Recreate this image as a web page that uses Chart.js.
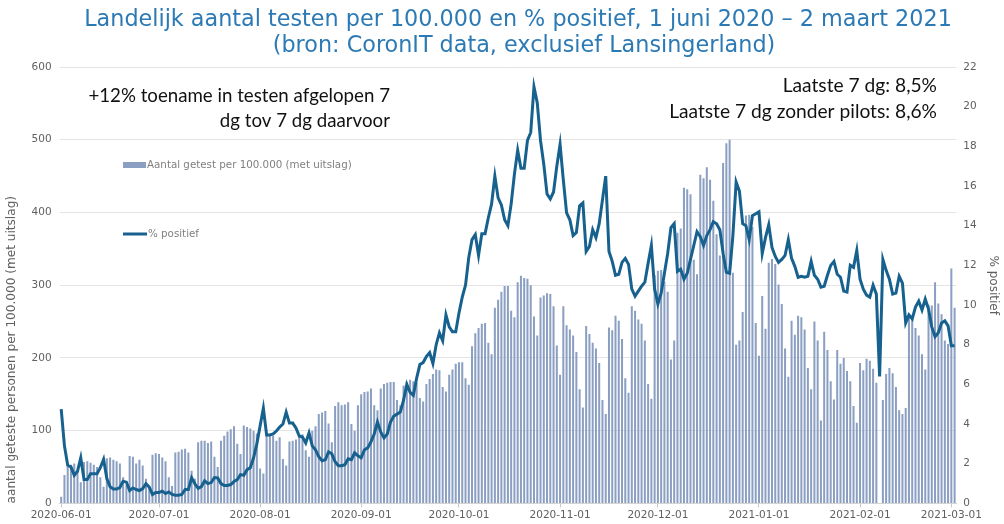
<!DOCTYPE html>
<html>
<head>
<meta charset="utf-8">
<script src="https://cdn.jsdelivr.net/npm/chart.js@4.4.0/dist/chart.umd.min.js"></script>
<style>
  html, body { margin: 0; padding: 0; background: #fff; }
  #wrap { width: 1004px; height: 524px; }
</style>
</head>
<body>
<div id="wrap"><canvas id="myChart" width="1004" height="524"></canvas></div>
<script>
// dagen van 2020-06-01 t/m 2021-03-02
const startDatum = '2020-06-01';
const aantalDagen = 275;

// aantal getest per 100.000 (met uitslag), per dag, week begint op maandag
const getest = [
    9, 39, 50, 53, 55, 45, 29,
    57, 58, 56, 53, 50, 36, 23,
    62, 63, 60, 58, 55, 36, 25,
    65, 64, 55, 60, 52, 34, 21,
    67, 69, 68, 63, 58, 36, 24,
    70, 71, 74, 75, 70, 45, 34,
    84, 86, 86, 83, 85, 64, 50,
    86, 93, 99, 102, 106, 82, 68,
    107, 105, 103, 100, 96, 48, 41,
    93, 95, 93, 86, 91, 61, 52,
    85, 86, 88, 92, 95, 73, 64,
    100, 106, 123, 125, 127, 110, 84,
    134, 139, 135, 136, 139, 109, 100,
    135, 150, 153, 154, 158, 135, 128,
    158, 164, 166, 167, 167, 142, 135,
    162, 167, 170, 168, 166, 145, 140,
    164, 171, 178, 184, 183, 160, 154,
    177, 184, 192, 194, 194, 172, 163,
    216, 234, 241, 247, 248, 221, 205,
    269, 280, 291, 299, 299, 265, 256,
    304, 313, 310, 309, 300, 257, 231,
    283, 286, 289, 288, 271, 217, 177,
    271, 245, 239, 231, 208, 157, 132,
    244, 233, 221, 213, 193, 142, 123,
    242, 238, 258, 251, 226, 172, 152,
    271, 265, 253, 247, 224, 164, 144,
    314, 320, 321, 305, 291, 198, 224,
    372, 378, 434, 432, 425, 335, 315,
    452, 447, 462, 445, 416, 370, 341,
    468, 495, 500, 317, 218, 224, 263,
    396, 397, 380, 248, 203, 285, 240,
    331, 336, 329, 301, 274, 213, 174,
    251, 232, 258, 256, 239, 186, 157,
    250, 224, 114, 236, 211, 168, 143,
    211, 192, 200, 182, 168, 134, 111,
    193, 183, 199, 196, 185, 166, 0,
    142, 178, 186, 179, 160, 128, 123,
    131, 260, 253, 241, 231, 205, 184,
    273, 272, 304, 275, 260, 224, 219,
    323, 269
];

// % positief per dag
const positief = [
    4.75, 2.9, 1.92, 1.84, 1.42, 1.62, 2.3,
    1.2, 1.2, 1.5, 1.5, 1.5, 1.8, 2.22,
    1.25, 0.84, 0.72, 0.72, 0.8, 1.12, 1.07,
    0.65, 0.78, 0.7, 0.65, 0.75, 1.0, 0.82,
    0.45, 0.55, 0.55, 0.62, 0.5, 0.58, 0.45,
    0.41, 0.41, 0.45, 0.7, 0.7, 1.29, 0.99,
    0.76, 0.85, 1.14, 1.0, 1.05, 1.3, 1.28,
    1.0, 0.9, 0.9, 0.95, 1.1, 1.2, 1.45,
    1.42, 1.7, 1.8, 2.3, 3.0, 3.9, 4.8,
    3.45, 3.45, 3.5, 3.65, 3.85, 4.0, 4.6,
    4.05, 4.05, 3.8, 3.4, 3.35, 3.05, 3.55,
    2.9, 2.7, 2.35, 2.15, 2.2, 2.6, 2.5,
    2.1, 1.9, 1.9, 1.95, 2.25, 2.2, 2.55,
    2.4, 2.3, 2.7, 2.8, 3.1, 3.5, 4.1,
    3.6, 3.3, 3.5, 4.1, 4.4, 4.5, 4.6,
    5.2, 6.0, 5.6, 5.45, 6.3, 7.0, 7.1,
    7.4, 7.6, 7.05, 8.0, 8.6, 8.2, 9.5,
    8.9, 8.65, 8.65, 9.6, 10.4, 11.0, 12.4,
    13.3, 13.55, 12.5, 13.6, 13.6, 14.4, 15.1,
    16.5, 15.4, 15.05, 14.3, 14.0, 15.1, 16.6,
    17.8, 16.9, 16.9, 18.3, 18.7, 21.0, 20.2,
    18.3, 17.1, 15.6, 15.35, 15.7, 17.0, 18.1,
    16.3, 14.65, 14.3, 13.5, 13.65, 15.0, 15.15,
    12.7, 12.95, 13.8, 13.4, 14.1, 15.3, 16.5,
    12.7, 12.2, 11.5, 11.55, 12.15, 12.35, 12.05,
    10.8, 10.45, 10.7, 10.95, 11.15, 12.1, 13.0,
    10.8, 10.05, 10.6, 11.6, 12.6, 13.9, 14.1,
    11.7, 11.8, 11.3, 11.6, 12.3, 13.0, 13.7,
    13.45, 13.0, 13.5, 13.8, 14.2, 14.1, 13.8,
    12.6, 11.65, 11.6, 13.5, 16.2, 15.75, 14.1,
    14.0, 13.3, 14.5, 14.6, 14.7, 12.6, 13.4,
    14.05, 12.9, 12.45, 12.15, 12.3, 12.5, 13.3,
    12.35, 11.95, 11.4, 11.45, 11.4, 11.45, 12.2,
    11.5, 11.3, 10.9, 10.95, 11.5, 12.0, 12.2,
    11.55, 11.4, 10.7, 10.65, 12.0, 11.9, 12.75,
    11.3, 10.8, 10.5, 10.4, 11.0, 10.55, 6.4,
    12.3, 11.75, 11.3, 10.55, 10.6, 11.45, 11.1,
    9.1, 9.5, 9.3, 9.9, 10.2, 9.75, 10.3,
    9.8, 8.9, 8.4, 8.6, 9.1, 9.2, 8.95,
    7.95, 7.95
];

const titelRegels = [
    'Landelijk aantal testen per 100.000 en % positief, 1 juni 2020 \u2013 2 maart 2021',
    '(bron: CoronIT data, exclusief Lansingerland)'
];
const notitieLinks = ['+12% toename in testen afgelopen 7', 'dg tov 7 dg daarvoor'];
const notitieRechts = ['Laatste 7 dg: 8,5%', 'Laatste 7 dg zonder pilots: 8,6%'];
const legendaTekst = ['Aantal getest per 100.000 (met uitslag)', '% positief'];

const barKleur = '#8b9fc2';
const lijnKleur = '#17618f';
const grijs = '#606060';

// datum labels
const labels = [];
const d0 = new Date(startDatum + 'T00:00:00Z');
for (let i = 0; i < aantalDagen; i++) {
    const d = new Date(d0.getTime() + i * 86400000);
    labels.push(d.toISOString().slice(0, 10));
}

const tekstPlugin = {
    id: 'teksten',
    afterDraw(chart) {
        const ctx = chart.ctx;
        ctx.save();
        // titel
        ctx.fillStyle = '#2c7ab5';
        ctx.font = '22.3px "DejaVu Sans"';
        ctx.textAlign = 'center';
        ctx.textBaseline = 'middle';
        ctx.fillText(titelRegels[0], 518, 20);
        ctx.fillText(titelRegels[1], 524, 46);

        // notities
        ctx.fillStyle = '#111';
        ctx.font = '18.7px Lato';
        ctx.textAlign = 'right';
        ctx.fillText(notitieLinks[0], 390, 96);
        ctx.fillText(notitieLinks[1], 390, 121);
        ctx.font = '19.2px Lato';
        ctx.fillText(notitieRechts[0], 937, 86);
        ctx.fillText(notitieRechts[1], 937, 112);

        // legenda
        ctx.fillStyle = barKleur;
        ctx.fillRect(123, 162, 23, 6);
        ctx.strokeStyle = lijnKleur;
        ctx.lineWidth = 3;
        ctx.beginPath();
        ctx.moveTo(123, 234);
        ctx.lineTo(147, 234);
        ctx.stroke();
        ctx.fillStyle = '#808080';
        ctx.font = '10.3px "DejaVu Sans"';
        ctx.textAlign = 'left';
        ctx.fillText(legendaTekst[0], 147, 165);
        ctx.fillText(legendaTekst[1], 148, 234);
        ctx.restore();
    }
};

const tickFont = { family: 'DejaVu Sans', size: 10.5 };

const config = {
    type: 'bar',
    data: {
        labels: labels,
        datasets: [
            {
                type: 'line',
                label: legendaTekst[1],
                data: positief,
                yAxisID: 'y1',
                borderColor: lijnKleur,
                borderWidth: 3,
                pointRadius: 0,
                tension: 0,
                order: 0
            },
            {
                type: 'bar',
                label: legendaTekst[0],
                data: getest,
                yAxisID: 'y',
                backgroundColor: barKleur,
                barPercentage: 0.62,
                categoryPercentage: 1.0,
                order: 1
            }
        ]
    },
    options: {
        responsive: false,
        animation: false,
        layout: { padding: { left: 3, right: 2, top: 67, bottom: 0 } },
        plugins: {
            legend: { display: false },
            title: { display: false },
            tooltip: { enabled: false }
        },
        scales: {
            x: {
                offset: true,
                grid: {
                    offset: false,
                    drawOnChartArea: false,
                    tickLength: 4,
                    color: (c) => (labels[c.index] && labels[c.index].endsWith('-01')) ? '#c8c8c8' : 'rgba(0,0,0,0)'
                },
                border: { color: '#d4d4d4' },
                ticks: {
                    autoSkip: false,
                    maxRotation: 0,
                    minRotation: 0,
                    padding: 2,
                    font: tickFont,
                    color: grijs,
                    callback: function (val, i) {
                        const l = labels[i];
                        return l.endsWith('-01') ? l : '';
                    }
                }
            },
            y: {
                position: 'left',
                min: 0,
                max: 600,
                ticks: { stepSize: 100, padding: 8, font: tickFont, color: grijs },
                grid: { color: '#e4e4e4', drawTicks: false },
                border: { display: false },
                title: {
                    display: true,
                    text: 'aantal geteste personen per 100.000 (met uitslag)',
                    align: 'start',
                    color: grijs,
                    font: { family: 'DejaVu Sans', size: 12.1 },
                    padding: { top: 2, bottom: 4 }
                }
            },
            y1: {
                position: 'right',
                min: 0,
                max: 22,
                ticks: { stepSize: 2, padding: 7, font: tickFont, color: grijs },
                grid: { display: false, drawTicks: false },
                border: { display: false },
                title: {
                    display: true,
                    text: '% positief',
                    color: grijs,
                    font: { family: 'DejaVu Sans', size: 12 },
                    padding: { top: 2, bottom: 2 }
                }
            }
        }
    },
    plugins: [tekstPlugin]
};

const myChart = new Chart(document.getElementById('myChart'), config);
</script>
</body>
</html>
